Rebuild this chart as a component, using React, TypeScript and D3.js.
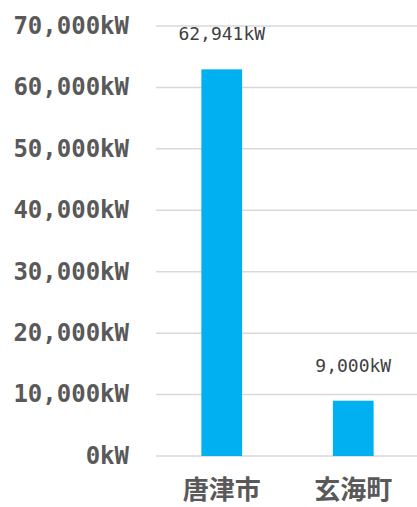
import React from 'react';
import { scaleBand, scaleLinear, range, format } from 'd3';

const categories = ['唐津市', '玄海町'];
const values = [62941, 9000];
const tickValues = range(0, 70001, 10000);

const width = 417;
const height = 507;
const margin = { top: 26, right: 0, bottom: 51, left: 156 };

const innerWidth = width - margin.left - margin.right;
const innerHeight = height - margin.top - margin.bottom;

const fmt = format(',');

function App() {
  // plot area runs a little past the right edge in the original
  const xScale = scaleBand()
    .domain(categories)
    .range([0, innerWidth + 2])
    .paddingInner(0.69)
    .paddingOuter(0.345);

  const yScale = scaleLinear()
    .domain([0, 70000])
    .range([innerHeight, 0]);

  return (
    <div style={{ position: 'absolute', left: 0, top: 0 }}>
      <svg width={width} height={height} style={{ display: 'block', background: '#fff' }}>
        <g transform={`translate(${margin.left}, ${margin.top})`}>
          {tickValues.map(t => (
            <g key={t}>
              <line
                x1={0}
                x2={innerWidth}
                y1={yScale(t)}
                y2={yScale(t)}
                stroke="#d9d9d9"
                strokeWidth={1.5}
              />
              <text
                x={-27}
                y={yScale(t)}
                dy="0.33em"
                textAnchor="end"
                fontFamily="'DejaVu Sans Mono', monospace"
                fontWeight="bold"
                fontSize={24}
                fill="#595959"
              >
                {fmt(t)}kW
              </text>
            </g>
          ))}
          {categories.map((c, i) => (
            <g key={c}>
              <rect
                x={xScale(c)}
                y={yScale(values[i])}
                width={xScale.bandwidth()}
                height={innerHeight - yScale(values[i])}
                fill="#00b0f0"
              />
              <text
                x={xScale(c)! + xScale.bandwidth() / 2}
                y={yScale(values[i]) - 29}
                textAnchor="middle"
                fontFamily="'DejaVu Sans Mono', monospace"
                fontSize={18}
                fill="#404040"
              >
                {fmt(values[i])}kW
              </text>
              <text
                x={xScale(c)! + xScale.bandwidth() / 2}
                y={innerHeight + 43}
                textAnchor="middle"
                fontFamily="'Noto Sans CJK JP', sans-serif"
                fontWeight="bold"
                fontSize={26}
                fill="#595959"
              >
                {c}
              </text>
            </g>
          ))}
        </g>
      </svg>
    </div>
  );
}

export default App;
